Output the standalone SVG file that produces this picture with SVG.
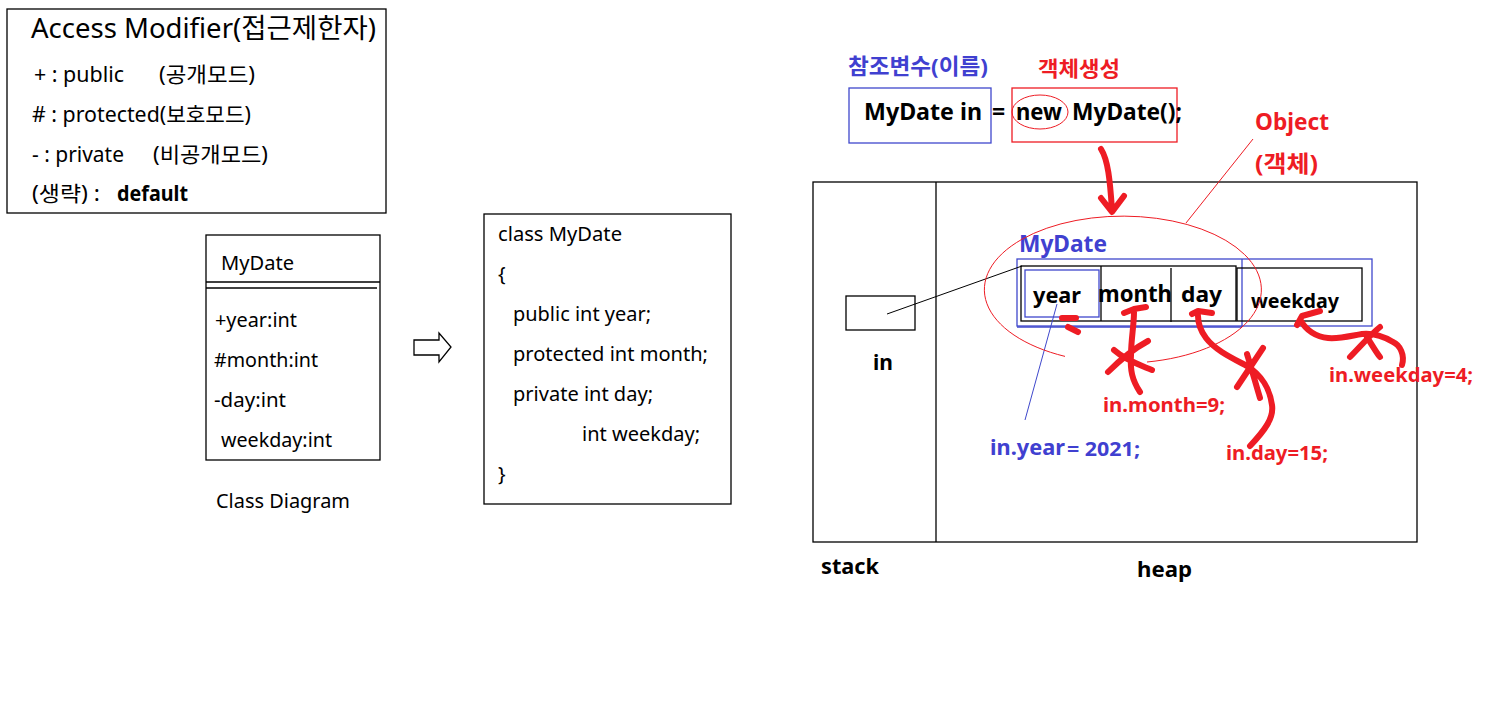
<svg xmlns="http://www.w3.org/2000/svg" width="1496" height="712" viewBox="0 0 1496 712">
<style>
text{font-family:"Noto Sans","Noto Sans CJK KR",sans-serif;fill:#000}
.r{font-size:21px}
.c{font-size:20px}
.b{font-weight:bold}
.blue{fill:#4040d0}
.red{fill:#ee1c24}
.box{fill:none;stroke:#000;stroke-width:1.3}
.bbox{fill:none;stroke:#3f48cc;stroke-width:1.3}
.rline{fill:none;stroke:#ee1c24;stroke-width:1}
.pen{fill:none;stroke:#ee1c24;stroke-width:6;stroke-linecap:round;stroke-linejoin:round}
</style>
<rect width="1496" height="712" fill="#fff"/>

<g id="access-modifier">
<rect class="box" x="7" y="9" width="379" height="204"/>
<text x="31" y="38" style="font-size:27px" textLength="345" lengthAdjust="spacingAndGlyphs">Access Modifier(접근제한자)</text>
<text class="r" x="34" y="82" textLength="90" lengthAdjust="spacingAndGlyphs">+ : public</text>
<text class="r" x="159" y="82" textLength="96" lengthAdjust="spacingAndGlyphs">(공개모드)</text>
<text class="r" x="32" y="122" textLength="219" lengthAdjust="spacingAndGlyphs"># : protected(보호모드)</text>
<text class="r" x="32" y="162" textLength="92" lengthAdjust="spacingAndGlyphs">- : private</text>
<text class="r" x="153" y="162" textLength="115" lengthAdjust="spacingAndGlyphs">(비공개모드)</text>
<text class="r" x="32" y="201" textLength="68" lengthAdjust="spacingAndGlyphs">(생략) :</text>
<text class="r b" x="117" y="201" textLength="71" lengthAdjust="spacingAndGlyphs">default</text>
</g>

<g id="class-diagram">
<rect class="box" x="206" y="235" width="174" height="225"/>
<line class="box" x1="206" y1="282" x2="380" y2="282"/>
<line class="box" x1="206" y1="288" x2="377" y2="288"/>
<text class="c" x="221" y="270" textLength="73" lengthAdjust="spacingAndGlyphs">MyDate</text>
<text class="c" x="215" y="327" textLength="82" lengthAdjust="spacingAndGlyphs">+year:int</text>
<text class="c" x="214" y="367" textLength="104" lengthAdjust="spacingAndGlyphs">#month:int</text>
<text class="c" x="214" y="407" textLength="72" lengthAdjust="spacingAndGlyphs">-day:int</text>
<text class="c" x="221" y="447" textLength="111" lengthAdjust="spacingAndGlyphs">weekday:int</text>
<text class="c" x="216" y="508" textLength="134" lengthAdjust="spacingAndGlyphs">Class Diagram</text>
</g>

<g id="convert-arrow">
<path class="box" d="M414,340 H439 V333 L451,347 L439,362 V355 H414 Z" stroke-width="1"/>
</g>

<g id="class-code">
<rect class="box" x="484" y="214" width="247" height="290"/>
<text class="c" x="498" y="241" textLength="124" lengthAdjust="spacingAndGlyphs">class MyDate</text>
<text class="c" x="498" y="281">{</text>
<text class="c" x="513" y="321" textLength="138" lengthAdjust="spacingAndGlyphs">public int year;</text>
<text class="c" x="513" y="361" textLength="195" lengthAdjust="spacingAndGlyphs">protected int month;</text>
<text class="c" x="513" y="401" textLength="140" lengthAdjust="spacingAndGlyphs">private int day;</text>
<text class="c" x="582" y="441" textLength="118" lengthAdjust="spacingAndGlyphs">int weekday;</text>
<text class="c" x="498" y="481">}</text>
</g>

<g id="statement">
<text class="b blue" x="848" y="74" style="font-size:22px" textLength="140" lengthAdjust="spacingAndGlyphs">참조변수(이름)</text>
<text class="b red" x="1038" y="76" style="font-size:21px" textLength="82" lengthAdjust="spacingAndGlyphs">객체생성</text>
<rect class="bbox" x="849" y="88" width="142" height="55"/>
<rect fill="none" stroke="#ee1c24" stroke-width="1.3" x="1012" y="88" width="165" height="54"/>
<text class="b" x="864" y="120" style="font-size:23px" textLength="118" lengthAdjust="spacingAndGlyphs">MyDate in</text>
<text class="b" x="992" y="120" style="font-size:23px">=</text>
<text class="b" x="1016" y="120" style="font-size:23px" textLength="46" lengthAdjust="spacingAndGlyphs">new</text>
<text class="b" x="1072" y="120" style="font-size:23px" textLength="110" lengthAdjust="spacingAndGlyphs">MyDate();</text>
<ellipse class="rline" cx="1040" cy="112" rx="28" ry="17"/>
</g>

<g id="object-label">
<text class="b red" x="1255" y="130" style="font-size:23px" textLength="74" lengthAdjust="spacingAndGlyphs">Object</text>
<text class="b red" x="1255" y="172" style="font-size:23px" textLength="63" lengthAdjust="spacingAndGlyphs">(객체)</text>
</g>

<g id="memory">
<rect class="box" x="813" y="182" width="604" height="360"/>
<line class="box" x1="936" y1="182" x2="936" y2="542"/>
<rect class="box" x="846" y="296" width="69" height="34"/>
<text class="b" x="873" y="370" style="font-size:21px">in</text>
<text class="b" x="821" y="574" style="font-size:22px" textLength="58" lengthAdjust="spacingAndGlyphs">stack</text>
<text class="b" x="1137" y="577" style="font-size:22px" textLength="55" lengthAdjust="spacingAndGlyphs">heap</text>
</g>

<g id="object">
<text class="b blue" x="1019" y="252" style="font-size:23px" textLength="88" lengthAdjust="spacingAndGlyphs">MyDate</text>
<rect class="bbox" x="1017" y="259" width="355" height="67" stroke-width="1.5"/>
<line class="bbox" x1="1017" y1="327" x2="1242" y2="327" stroke-width="2"/>
<line class="bbox" x1="1242" y1="259" x2="1242" y2="327"/>
<rect class="box" x="1021" y="266" width="215" height="55" stroke-width="1.6"/>
<line class="box" x1="1101" y1="266" x2="1101" y2="321"/>
<line class="box" x1="1171" y1="268" x2="1171" y2="322"/>
<rect class="box" x="1237" y="268" width="125" height="53"/>
<rect class="bbox" x="1025" y="270" width="74" height="47"/>
<text class="b" x="1033" y="303" style="font-size:22px" textLength="48" lengthAdjust="spacingAndGlyphs">year</text>
<text class="b" x="1098" y="302" style="font-size:23px" textLength="74" lengthAdjust="spacingAndGlyphs">month</text>
<text class="b" x="1181" y="302" style="font-size:22px" textLength="41" lengthAdjust="spacingAndGlyphs">day</text>
<text class="b" x="1251" y="308" style="font-size:20px" textLength="88" lengthAdjust="spacingAndGlyphs">weekday</text>
</g>

<g id="assignments">
<text class="b blue" x="990" y="455" style="font-size:22px" textLength="75" lengthAdjust="spacingAndGlyphs">in.year</text>
<text class="b blue" x="1067" y="456" style="font-size:20px" textLength="73" lengthAdjust="spacingAndGlyphs">= 2021;</text>
<text class="b red" x="1103" y="412" style="font-size:20px" textLength="122" lengthAdjust="spacingAndGlyphs">in.month=9;</text>
<text class="b red" x="1226" y="460" style="font-size:20px" textLength="102" lengthAdjust="spacingAndGlyphs">in.day=15;</text>
<text class="b red" x="1329" y="382" style="font-size:20px" textLength="144" lengthAdjust="spacingAndGlyphs">in.weekday=4;</text>
</g>

<g id="connectors">
<line stroke="#000" stroke-width="1" x1="887" y1="314" x2="1022" y2="266"/>
<line stroke="#3f48cc" stroke-width="1" x1="1057" y1="304" x2="1025" y2="420"/>
<line class="rline" x1="1253" y1="139" x2="1186" y2="223"/>
<path class="rline" d="M1147,362 A138.5,73.5 0 1 0 1065,356.4"/>
<path class="pen" d="M1101,149 C1108,160 1110,180 1112,210 M1101,198 L1112,212 L1124,196" stroke-width="7"/>
<path class="pen" d="M1140,392 C1132,380 1130,370 1131,355 C1131,340 1134,325 1134,312 M1124,313 L1134,309 L1146,307 M1114,350 C1125,360 1140,365 1152,370 M1108,372 C1120,360 1135,348 1148,341" stroke-width="5"/>
<path class="pen" d="M1250,446 C1265,430 1274,418 1272,405 C1270,390 1262,375 1247,366 C1232,358 1215,350 1206,338 C1200,330 1198,322 1198,316 M1192,314 L1198,311 L1212,313 M1237,387 C1245,375 1255,360 1263,348 M1247,354 C1252,370 1256,385 1260,398" stroke-width="5"/>
<path class="pen" d="M1402,365 C1405,355 1400,345 1393,342 C1383,336 1372,333 1362,334 C1350,336 1340,339 1328,338 C1316,337 1306,330 1301,321 M1320,311 L1302,316 L1297,325 M1350,357 C1360,347 1370,335 1380,327 M1367,337 C1372,345 1376,352 1380,357" stroke-width="5"/>
<path class="pen" d="M1062,318 L1076,318 M1068,327 L1078,332" stroke-width="3"/>
</g>
</svg>
